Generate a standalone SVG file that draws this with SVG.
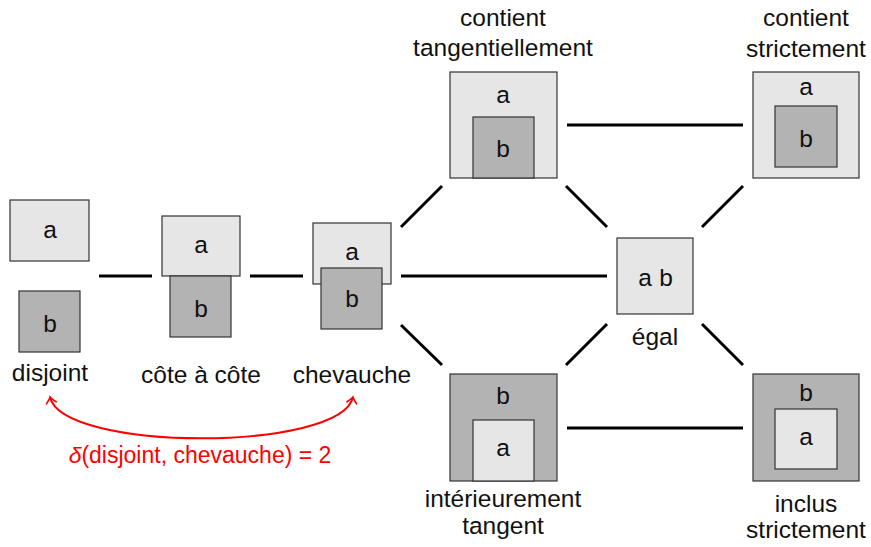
<svg xmlns="http://www.w3.org/2000/svg" width="871" height="547" viewBox="0 0 871 547">
<style>
text{font-family:"Liberation Sans",Arial,sans-serif;font-size:24.5px;fill:#111;text-anchor:middle}
.a{fill:#e6e6e6;stroke:#333;stroke-width:1.2}
.b{fill:#b3b3b3;stroke:#333;stroke-width:1.2}
.e line{stroke:#000;stroke-width:3}
.red{fill:#f00;font-size:23px}
</style>
<defs>
<marker id="tip" viewBox="-8 -6 10 12" markerWidth="10" markerHeight="12" refX="0" refY="0" orient="auto-start-reverse" markerUnits="userSpaceOnUse">
<path d="M-6,-5 Q-2,-1 0,0 Q-2,1 -6,5" fill="none" stroke="#f00" stroke-width="1.6" stroke-linecap="round"/>
</marker>
</defs>
<g id="connectors" class="e">
<line x1="99" y1="276" x2="152" y2="276"/>
<line x1="250" y1="276" x2="303" y2="276"/>
<line x1="401" y1="276" x2="607" y2="276"/>
<line x1="401" y1="227" x2="442" y2="186"/>
<line x1="401" y1="325" x2="442" y2="365"/>
<line x1="567" y1="125" x2="743" y2="125"/>
<line x1="567" y1="428" x2="743" y2="428"/>
<line x1="566" y1="186" x2="607" y2="227"/>
<line x1="702" y1="227" x2="743" y2="186"/>
<line x1="607" y1="324" x2="566" y2="365"/>
<line x1="702" y1="324" x2="743" y2="365"/>
</g>
<g id="disjoint">
<rect class="a" x="10" y="200" width="79" height="61"/>
<text x="50" y="238">a</text>
<rect class="b" x="19" y="291" width="61" height="61"/>
<text x="50" y="332">b</text>
<text x="50" y="381">disjoint</text>
</g>
<g id="cote">
<rect class="a" x="162" y="216" width="78" height="60"/>
<text x="201" y="253">a</text>
<rect class="b" x="170" y="276" width="61" height="61"/>
<text x="201" y="317">b</text>
<text x="201" y="383">côte à côte</text>
</g>
<g id="chevauche">
<rect class="a" x="313" y="223" width="78" height="61"/>
<text x="352" y="260">a</text>
<rect class="b" x="321" y="268" width="61" height="61"/>
<text x="352" y="307">b</text>
<text x="352" y="383">chevauche</text>
</g>
<g id="contient-tangentiellement">
<rect class="a" x="450" y="72" width="107" height="106"/>
<text x="503" y="103">a</text>
<rect class="b" x="473" y="117" width="61" height="61"/>
<text x="503" y="157">b</text>
<text x="503" y="26">contient</text>
<text x="503" y="56">tangentiellement</text>
</g>
<g id="contient-strictement">
<rect class="a" x="753" y="72" width="106" height="106"/>
<text x="806" y="95">a</text>
<rect class="b" x="775" y="106" width="62" height="61"/>
<text x="806" y="147">b</text>
<text x="806" y="26">contient</text>
<text x="806" y="57">strictement</text>
</g>
<g id="egal">
<rect class="a" x="617" y="238" width="76" height="76"/>
<text y="286"><tspan x="645">a</tspan><tspan x="666">b</tspan></text>
<text x="655" y="345">égal</text>
</g>
<g id="interieurement-tangent">
<rect class="b" x="450" y="374" width="107" height="107"/>
<text x="503" y="404">b</text>
<rect class="a" x="473" y="420" width="61" height="61"/>
<text x="503" y="456">a</text>
<text x="503" y="507">intérieurement</text>
<text x="503" y="534">tangent</text>
</g>
<g id="inclus-strictement">
<rect class="b" x="753" y="374" width="106" height="107"/>
<text x="806" y="401">b</text>
<rect class="a" x="775" y="409" width="62" height="60"/>
<text x="806" y="445">a</text>
<text x="806" y="512">inclus</text>
<text x="806" y="538">strictement</text>
</g>
<g id="distance">
<path d="M50,397 C62,452 341,452 353,397" fill="none" stroke="#f00" stroke-width="2" marker-start="url(#tip)" marker-end="url(#tip)"/>
<text class="red" x="200" y="463"><tspan font-style="italic">δ</tspan>(disjoint, chevauche) = 2</text>
</g>
</svg>
